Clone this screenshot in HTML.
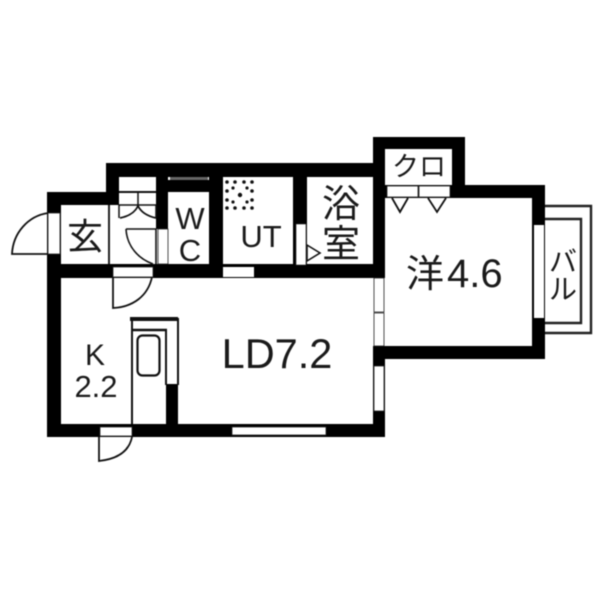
<!DOCTYPE html>
<html><head><meta charset="utf-8"><style>
html,body{margin:0;padding:0;background:#fff;width:600px;height:600px;overflow:hidden}
svg{display:block;filter:blur(0.4px)}
text{fill:#1a1a1a;font-family:"Liberation Sans","Noto Sans CJK JP",sans-serif}
</style></head><body>
<svg width="600" height="600" viewBox="0 0 600 600" xmlns="http://www.w3.org/2000/svg">
<g fill="#000">
<!-- outer walls -->
<rect x="47" y="192" width="14" height="245"/>
<rect x="47" y="192" width="72" height="13"/>
<rect x="106" y="163" width="279" height="14"/>
<rect x="106" y="163" width="13" height="42"/>
<rect x="47" y="264" width="338" height="14"/>
<rect x="47" y="424" width="338" height="13"/>
<rect x="373" y="346" width="12" height="91"/>
<rect x="373" y="137" width="12" height="141"/>
<rect x="373" y="137" width="92" height="12"/>
<rect x="452" y="137" width="13" height="61"/>
<rect x="373" y="185" width="172" height="13"/>
<rect x="532" y="185" width="13" height="174"/>
<rect x="373" y="346" width="172" height="13"/>
<!-- inner walls -->
<rect x="156" y="177" width="12" height="52"/>
<rect x="156" y="180" width="54" height="12"/>
<rect x="209" y="177" width="14" height="90"/>
<rect x="293" y="177" width="14" height="90"/>
<rect x="166" y="384" width="12" height="42"/>
</g>
<!-- gaps -->
<g fill="#fff" stroke="#222" stroke-width="0.8">
<rect x="48" y="213" width="12" height="41"/>
<rect x="113" y="267" width="40" height="10"/>
<rect x="223" y="267" width="31" height="10" stroke="none"/>
<rect x="296" y="224" width="10" height="41" stroke-width="0.6"/>
<rect x="158" y="229" width="10" height="35"/>
<rect x="387" y="186" width="31" height="11"/>
<rect x="419" y="186" width="31" height="11"/>
<rect x="534" y="225" width="10" height="93" stroke="none"/>
<rect x="374" y="278" width="10" height="34"/>
<rect x="374" y="313" width="10" height="33"/>
<rect x="374" y="366" width="10" height="45"/>
<rect x="232" y="427" width="94" height="8"/>
<rect x="100" y="427" width="32" height="9"/>
</g>
<rect x="170" y="177" width="38" height="3" fill="#666"/>
<rect x="108" y="205" width="2" height="59" fill="#222"/>
<!-- shoe closet -->
<g fill="none" stroke="#111">
<path d="M119 192H156" stroke-width="2"/>
<path d="M119 205H156" stroke-width="1.5"/>
<path d="M119 205V218M156 205V218M138 193V206" stroke-width="1.5"/>
<path d="M120 218C130 216 135 212 138 206C141 212 147 216 156 218" stroke-width="1.8"/>
<!-- doors -->
<path d="M48 254H12C13 233 28 216 48 213" stroke-width="1.8"/>
<path d="M126 229H156V264" stroke-width="1.6"/>
<path d="M126 229C127 247 139 259 153 264" stroke-width="1.6"/>
<path d="M113 277V308C133 307 148 296 152 277" stroke-width="1.8"/>
<path d="M99 437V461C117 459 129 452 132 437" stroke-width="1.8"/>
<!-- triangles -->
<path d="M392 198L400 212L408 198M428 198L437 212L446 198" stroke-width="1.8"/>
<path d="M307 245L320 253L307 261Z" stroke-width="1.6" fill="#fff"/>
<!-- balcony -->
<path d="M545 206H591V333H545" stroke-width="2.400" stroke="#222"/>
<path d="M545 219H581V323H545" stroke-width="2.400" stroke="#222"/>
<!-- kitchen -->
<path d="M132 317V424" stroke-width="2"/>
<path d="M166 330V385" stroke-width="2"/>
<path d="M178 318V385" stroke-width="2"/>
<path d="M131 330H167" stroke-width="2.500"/>
<rect x="137.500" y="335.500" width="22" height="40" rx="5" stroke-width="2.200"/>
</g>
<rect x="130" y="317" width="48" height="4" fill="#111"/>
<!-- UT fan dots -->
<g fill="#111">
<circle cx="227" cy="182" r="1.800"/><circle cx="235" cy="182" r="1.800"/><circle cx="244" cy="182" r="1.800"/><circle cx="252" cy="182" r="1.800"/>
<circle cx="227" cy="208" r="1.800"/><circle cx="235" cy="208" r="1.800"/><circle cx="244" cy="208" r="1.800"/><circle cx="252" cy="208" r="1.800"/>
<circle cx="227" cy="191" r="1.800"/><circle cx="252" cy="191" r="1.800"/><circle cx="227" cy="200" r="1.800"/><circle cx="252" cy="200" r="1.800"/>
<circle cx="240" cy="195" r="2.200"/>
<circle cx="233" cy="188" r="1.600"/><circle cx="247" cy="188" r="1.600"/><circle cx="233" cy="202" r="1.600"/><circle cx="247" cy="202" r="1.600"/>
</g>
<!-- labels -->
<text x="85" y="249" font-size="36" text-anchor="middle">玄</text>
<text x="190" y="229" font-size="31" text-anchor="middle">W</text>
<text x="190" y="261" font-size="31" text-anchor="middle">C</text>
<text x="261" y="247" font-size="31" text-anchor="middle">UT</text>
<text x="341" y="217" font-size="38" text-anchor="middle">浴</text>
<text x="341" y="257" font-size="38" text-anchor="middle">室</text>
<text x="419" y="176" font-size="27" text-anchor="middle">クロ</text>
<text x="425" y="287" font-size="38" text-anchor="middle">洋</text>
<text x="447" y="287" font-size="40">4.6</text>
<text x="277" y="368" font-size="41.500" text-anchor="middle">LD7.2</text>
<text x="95" y="365" font-size="30" text-anchor="middle">K</text>
<text x="96" y="397" font-size="31" text-anchor="middle">2.2</text>
<text x="563" y="271" font-size="28" text-anchor="middle">バ</text>
<text x="563" y="299" font-size="28" text-anchor="middle">ル</text>
</svg>
</body></html>
